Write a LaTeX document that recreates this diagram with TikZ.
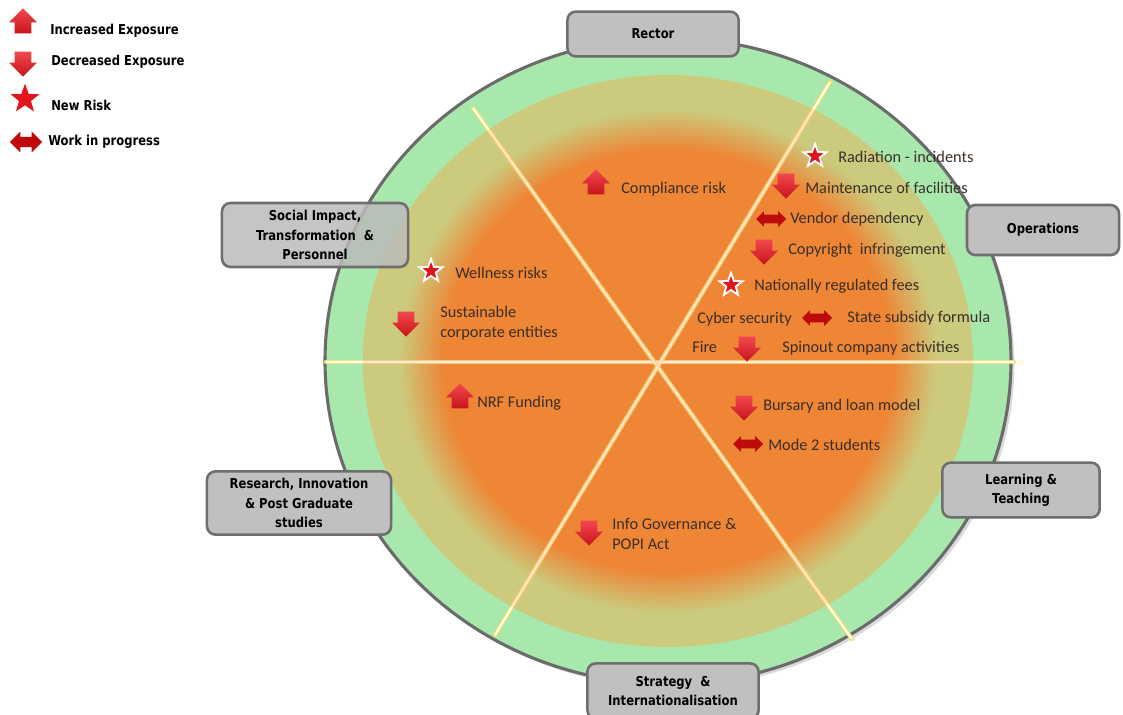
\documentclass[tikz,border=0pt]{standalone}
\usepackage{fontspec}
\setmainfont{Carlito}
\newfontfamily\unitfont[FakeStretch=0.85]{DejaVu Sans}
\usetikzlibrary{shapes.arrows,shapes.geometric,shadows}

\definecolor{ringgreen}{HTML}{A9E8AC}
\definecolor{ringolive}{HTML}{CBCA7D}
\definecolor{coreorange}{HTML}{EE8636}
\definecolor{rimgrey}{HTML}{6B6B6B}
\definecolor{boxgrey}{HTML}{C0C0C0}
\definecolor{boxedge}{HTML}{6E6E6E}
\definecolor{itemtext}{HTML}{3C2E28}
\definecolor{redlight}{HTML}{F2474E}
\definecolor{reddark}{HTML}{C8141C}
\definecolor{starred}{HTML}{E2141E}
\definecolor{wipred}{HTML}{BE0A0A}
\definecolor{glowyellow}{HTML}{F2E36A}
\definecolor{lineorange}{HTML}{FFC97E}

\pgfdeclareradialshading{heatcore}{\pgfpoint{0bp}{0bp}}{color(0bp)=(coreorange); color(18.5bp)=(coreorange); color(22bp)=(ringolive); color(25bp)=(ringolive); color(50bp)=(ringolive)}

\tikzset{
    unitbox/.style={draw=boxedge, line width=1.8pt, fill=boxgrey, rounded corners=6pt,
        align=center, text=black, font=\unitfont\bfseries\fontsize{9.7}{13.8}\selectfont,
        drop shadow={opacity=0.3, shadow xshift=0.8pt, shadow yshift=-0.8pt}},
    itemtxt/.style={anchor=west, inner sep=0pt, align=left, text=itemtext,
        font=\fontsize{11.6}{14.5}\selectfont},
    legtxt/.style={anchor=west, inner sep=0pt, font=\unitfont\bfseries\fontsize{9.7}{12}\selectfont},
    upicon/.style={single arrow, shape border rotate=90, draw=none, inner sep=0.2cm,
        single arrow head extend=0.14cm, minimum height=0.62cm,
        top color=redlight, bottom color=reddark},
    downicon/.style={single arrow, shape border rotate=270, draw=none, inner sep=0.2cm,
        single arrow head extend=0.14cm, minimum height=0.62cm,
        top color=redlight, bottom color=reddark},
    newicon/.style={star, star points=5, star point ratio=2.4, fill=starred, draw=white,
        line width=1.3pt, minimum size=0.6cm, inner sep=0pt},
    wipicon/.style={double arrow, fill=wipred, draw=none, inner sep=0.1cm,
        double arrow head extend=0.09cm, minimum height=0.75cm},
    divglow/.style={glowyellow, line width=3pt, line cap=round},
    divcore/.style={white, line width=1.3pt},
    divinner/.style={lineorange, line width=2.6pt},
    divinnercore/.style={white!70!lineorange, line width=1pt}
}

\begin{document}
\begin{tikzpicture}[x=0.025cm, y=-0.025cm]

    \useasboundingbox (0,0) rectangle (1123,715);

    %% Risk wheel

    % Rings
    \coordinate (mid) at (668,361);
    \fill[ringgreen, draw=rimgrey, line width=2.2pt, drop shadow={opacity=0.3}]
        (mid) ellipse [x radius=343, y radius=323];
    \shade[shading=heatcore] (mid) ellipse [x radius=305, y radius=286];

    % Dividers
    \coordinate (hW) at (326,362);
    \coordinate (hE) at (1014,362);
    \coordinate (dA1) at (473,108);
    \coordinate (dA2) at (852,639);
    \coordinate (dB1) at (830,82);
    \coordinate (dB2) at (495,635);

    \foreach \a/\b in {hW/hE, dA1/dA2, dB1/dB2} {
        \draw[divglow] (\a) -- (\b);
        \draw[divcore] (\a) -- (\b);
    }
    \begin{scope}
        \clip (mid) ellipse [x radius=305, y radius=286];
        \foreach \a/\b in {hW/hE, dA1/dA2, dB1/dB2} {
            \draw[divinner] (\a) -- (\b);
            \draw[divinnercore] (\a) -- (\b);
        }
    \end{scope}

    % Portfolios
    \node[unitbox, minimum width=4.28cm, minimum height=1.12cm] (rector) at (653,34) {Rector};
    \node[unitbox, minimum width=3.8cm, minimum height=1.25cm] (ops) at (1043,230) {Operations};
    \node[unitbox, minimum width=3.93cm, minimum height=1.37cm] (learn) at (1021,490) {Learning \&\\Teaching};
    \node[unitbox, minimum width=4.65cm, minimum height=1.6cm, fill opacity=0.78, text opacity=1]
        (social) at (315,235) {Social Impact,\\Transformation \ \&\\Personnel};
    \node[unitbox, minimum width=4.6cm, minimum height=1.58cm] (research) at (299,503)
        {Research, Innovation\\\& Post Graduate\\studies};
    \node[unitbox, minimum width=4.28cm, minimum height=1.38cm] (strategy) at (673,691)
        {Strategy \ \&\\Internationalisation};

    % Operations risks
    \node[newicon] (radI) at (815,156) {};
    \node[itemtxt] (radT) at (838,157) {Radiation - incidents};
    \node[downicon] (mainI) at (786,182) {};
    \node[itemtxt] (mainT) at (805,188) {Maintenance of facilities};
    \node[wipicon] (vendI) at (771,219) {};
    \node[itemtxt] (vendT) at (790,219) {Vendor dependency};
    \node[downicon] (copyI) at (764,248) {};
    \node[itemtxt] (copyT) at (788,250) {Copyright \ infringement};
    \node[newicon] (feesI) at (731,285) {};
    \node[itemtxt] (feesT) at (754,286) {Nationally regulated fees};
    \node[itemtxt] (cyberT) at (697,319) {Cyber security};
    \node[wipicon] (subsI) at (817,318) {};
    \node[itemtxt] (subsT) at (847,318) {State subsidy formula};
    \node[itemtxt] (fireT) at (692,347) {Fire};
    \node[downicon] (spinI) at (747,345) {};
    \node[itemtxt] (spinT) at (782,348) {Spinout company activities};

    % Rector risks
    \node[upicon] (compI) at (596,186) {};
    \node[itemtxt] (compT) at (621,189) {Compliance risk};

    % Social impact risks
    \node[newicon] (wellI) at (431,271) {};
    \node[itemtxt] (wellT) at (455,273) {Wellness risks};
    \node[downicon] (sustI) at (406,320) {};
    \node[itemtxt] (sustT) at (440,323) {Sustainable\\corporate entities};

    % Research risks
    \node[upicon] (nrfI) at (460,400) {};
    \node[itemtxt] (nrfT) at (477,403) {NRF Funding};

    % Learning risks
    \node[downicon] (bursI) at (744,404) {};
    \node[itemtxt] (bursT) at (763,406) {Bursary and loan model};
    \node[wipicon] (modeI) at (748,444) {};
    \node[itemtxt] (modeT) at (768,445) {Mode 2 students};

    % Strategy risks
    \node[downicon] (popiI) at (589,529) {};
    \node[itemtxt] (popiT) at (612,534) {Info Governance \&\\POPI Act};

    %% Legend
    \node[upicon] (legUp) at (23,25) {};
    \node[legtxt] (legUpT) at (50,31) {Increased Exposure};
    \node[downicon] (legDown) at (23,60) {};
    \node[legtxt] (legDownT) at (51,62) {Decreased Exposure};
    \node[newicon, draw=none, minimum size=0.76cm] (legNew) at (25,99) {};
    \node[legtxt] (legNewT) at (51,105) {New Risk};
    \node[wipicon, minimum height=0.8cm, inner sep=0.12cm, double arrow head extend=0.13cm]
        (legWip) at (26,142) {};
    \node[legtxt] (legWipT) at (48,142) {Work in progress};

\end{tikzpicture}
\end{document}
